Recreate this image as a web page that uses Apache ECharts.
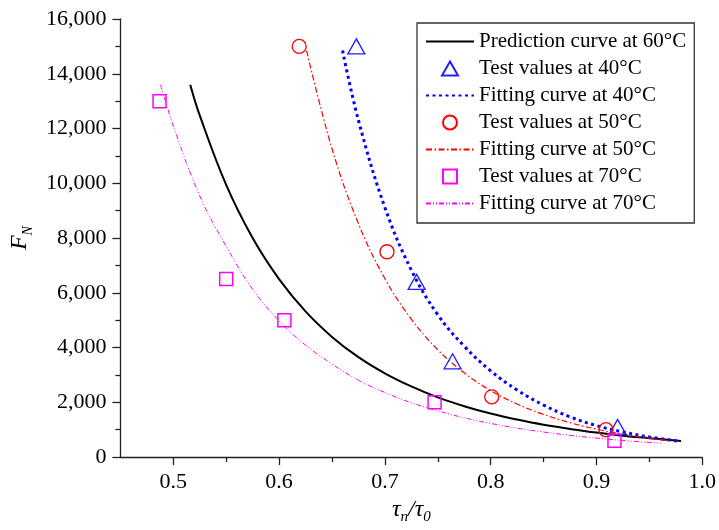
<!DOCTYPE html>
<html>
<head>
<meta charset="utf-8">
<script src="https://cdn.jsdelivr.net/npm/echarts@6/dist/echarts.min.js"></script>
<style>
html,body{margin:0;padding:0;background:#fff;}
#c{width:719px;height:530px;}
</style>
</head>
<body>
<div id="c"></div>
<script>
// ---- data ----
const xMajorTicks = [0.5, 0.6, 0.7, 0.8, 0.9, 1.0];
const xMinorTicks = [0.55, 0.65, 0.75, 0.85, 0.95];

const test40X = [0.673, 0.730, 0.764, 0.920];
const test40Y = [15000, 6400, 3500, 1100];
const test50X = [0.619, 0.702, 0.801, 0.909];
const test50Y = [15000, 7500, 2200, 1000];
const test70X = [0.487, 0.550, 0.605, 0.747, 0.917];
const test70Y = [13000, 6500, 5000, 2000, 600];

const pred60X = [0.516, 0.525, 0.55, 0.575, 0.6, 0.625, 0.65, 0.675, 0.7, 0.725, 0.75, 0.775, 0.8, 0.825, 0.85, 0.875, 0.9, 0.925, 0.95, 0.98];
const pred60Y = [13600, 12480, 9940, 8000, 6500, 5320, 4390, 3650, 3060, 2580, 2180, 1860, 1590, 1370, 1180, 1030, 895, 780, 690, 590];

const fit40X = [0.66, 0.675, 0.7, 0.725, 0.75, 0.775, 0.8, 0.825, 0.85, 0.875, 0.9, 0.925, 0.95, 0.976];
const fit40Y = [14850, 12300, 9120, 6830, 5200, 4050, 3150, 2450, 1900, 1470, 1150, 917, 736, 590];

const fit50X = [0.626, 0.65, 0.675, 0.7, 0.725, 0.75, 0.775, 0.8, 0.825, 0.85, 0.875, 0.9, 0.925, 0.95, 0.97];
const fit50Y = [14850, 11270, 8530, 6520, 5040, 3920, 3080, 2430, 1940, 1560, 1257, 1021, 834, 685, 590];

const fit70X = [0.488, 0.5, 0.525, 0.55, 0.575, 0.6, 0.625, 0.65, 0.675, 0.7, 0.725, 0.75, 0.775, 0.8, 0.825, 0.85, 0.875, 0.9, 0.925, 0.961];
const fit70Y = [13600, 12100, 9540, 7700, 6130, 4980, 4090, 3400, 2808, 2360, 1983, 1690, 1434, 1230, 1057, 915, 794, 695, 606, 505];

const names = [
  'Prediction curve at 60\u00B0C',
  'Test values at 40\u00B0C',
  'Fitting curve at 40\u00B0C',
  'Test values at 50\u00B0C',
  'Fitting curve at 50\u00B0C',
  'Test values at 70\u00B0C',
  'Fitting curve at 70\u00B0C'
];

const zip = (xs, ys) => xs.map((x, i) => [x, ys[i]]);
const FONT = '"Liberation Serif", "Times New Roman", serif';
const AX = '#222';

const chart = echarts.init(document.getElementById('c'), null, {renderer: 'canvas'});

const lineSeries = (name, xs, ys, color, width, type) => ({
  name, type: 'line', data: zip(xs, ys), showSymbol: false, symbol: 'none',
  smooth: 0.4, z: 2,
  lineStyle: {color, width, type, cap: 'butt'},
  itemStyle: {color}
});
const scatterSeries = (name, xs, ys, color, symbol, size, bw) => ({
  name, type: 'scatter', data: zip(xs, ys), symbol, symbolSize: size, z: 5,
  itemStyle: {color: 'rgba(255,255,255,0)', borderColor: color, borderWidth: bw, opacity: 1}
});

const ICON_TRI = 'path://M8,0 L16,14 L0,14 Z';
const ICON_CIR = 'path://M0,7 A7,7 0 1,1 14,7 A7,7 0 1,1 0,7 Z';
const ICON_SQ = 'path://M0,0 L12,0 L12,12 L0,12 Z';
const HIDE_SYMBOL = {color: 'rgba(0,0,0,0)', borderColor: 'rgba(0,0,0,0)', borderWidth: 0};

chart.setOption({
  animation: false,
  backgroundColor: '#fff',
  textStyle: {fontFamily: FONT},
  grid: {left: 115, right: 14, top: 19, bottom: 66, containLabel: false},
  xAxis: [{
    type: 'value', min: 0.45, max: 1.0,
    axisLine: {show: true, onZero: false, lineStyle: {color: AX, width: 1.3}},
    axisTick: {show: true, length: 8, lineStyle: {color: AX, width: 1.3}, customValues: xMajorTicks},
    axisLabel: {show: true, margin: 14, fontSize: 22, color: '#000', fontFamily: FONT,
      customValues: xMajorTicks, formatter: v => Number(v).toFixed(1)},
    splitLine: {show: false},
    name: '{t|\u03C4}{s|n}{t|/\u03C4}{s|0}',
    nameLocation: 'middle', nameGap: 24,
    nameTextStyle: {
      rich: {
        t: {fontSize: 24, fontStyle: 'italic', fontFamily: FONT, color: '#000', lineHeight: 30, verticalAlign: 'middle'},
        s: {fontSize: 15, fontStyle: 'italic', fontFamily: FONT, color: '#000', lineHeight: 13, verticalAlign: 'bottom'}
      }
    }
  }, {
    type: 'value', min: 0.45, max: 1.0, position: 'bottom', gridIndex: 0,
    axisLine: {show: false},
    axisTick: {show: true, length: 5, lineStyle: {color: AX, width: 1.3}, customValues: xMinorTicks},
    axisLabel: {show: false},
    splitLine: {show: false}
  }],
  yAxis: {
    type: 'value', min: 0, max: 16000, interval: 2000,
    axisLine: {show: true, onZero: false, lineStyle: {color: AX, width: 1.3}},
    axisTick: {show: true, length: 8, lineStyle: {color: AX, width: 1.3}},
    minorTick: {show: true, splitNumber: 2, length: 5, lineStyle: {color: AX, width: 1.3}},
    axisLabel: {margin: 14, fontSize: 22, color: '#000', fontFamily: FONT,
      formatter: v => v.toLocaleString('en-US')},
    splitLine: {show: false},
    name: '{f|F}{s|N}',
    nameLocation: 'middle', nameGap: 68, nameRotate: 90,
    nameTextStyle: {
      rich: {
        f: {fontSize: 24, fontStyle: 'italic', fontFamily: FONT, color: '#000', lineHeight: 30, verticalAlign: 'middle'},
        s: {fontSize: 14, fontStyle: 'italic', fontFamily: FONT, color: '#000', lineHeight: 12, verticalAlign: 'bottom'}
      }
    }
  },
  legend: {
    orient: 'vertical', left: 417, top: 23,
    padding: [8, 8, 9, 8], itemGap: 6, itemWidth: 48, itemHeight: 14,
    borderColor: '#333', borderWidth: 1.3, backgroundColor: '#fff',
    textStyle: {fontFamily: FONT, fontSize: 21, color: '#000'},
    data: [
      {name: names[0], itemStyle: HIDE_SYMBOL},
      {name: names[1], icon: ICON_TRI},
      {name: names[2], itemStyle: HIDE_SYMBOL},
      {name: names[3], icon: ICON_CIR},
      {name: names[4], itemStyle: HIDE_SYMBOL},
      {name: names[5], icon: ICON_SQ},
      {name: names[6], itemStyle: HIDE_SYMBOL}
    ]
  },
  series: [
    lineSeries(names[0], pred60X, pred60Y, '#000000', 2, 'solid'),
    lineSeries(names[2], fit40X, fit40Y, '#0000ff', 3, [3, 3.5]),
    lineSeries(names[4], fit50X, fit50Y, '#ff0000', 1.2, [6, 2.5, 1.5, 2.5]),
    lineSeries(names[6], fit70X, fit70Y, '#ff00ff', 1, [5, 2, 1, 2, 1, 2]),
    scatterSeries(names[1], test40X, test40Y, '#2020ff', 'triangle', [17, 15], 1.3),
    scatterSeries(names[3], test50X, test50Y, '#ff0000', 'circle', 14, 1.3),
    scatterSeries(names[5], test70X, test70Y, '#ff00ff', 'rect', 13, 1.5)
  ]
});
</script>
</body>
</html>
